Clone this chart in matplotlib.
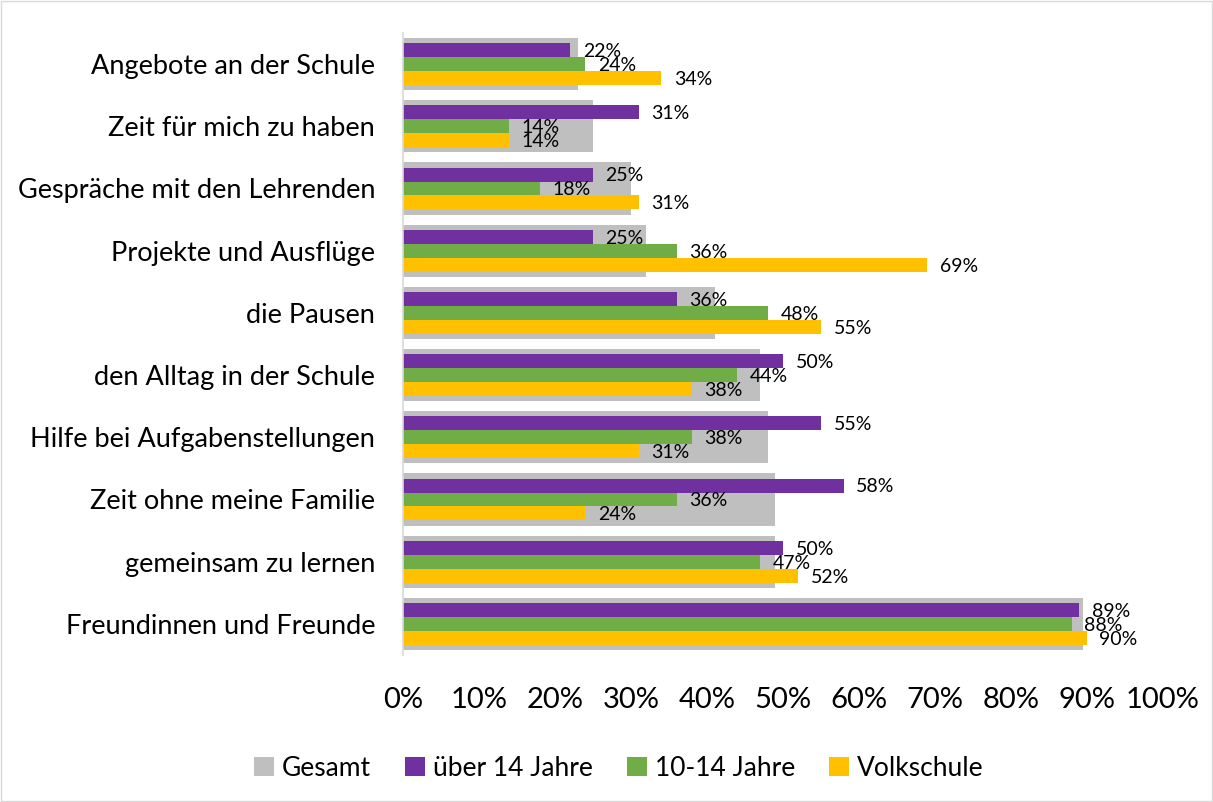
import matplotlib
matplotlib.use("Agg")
import matplotlib.pyplot as plt
from matplotlib.patches import Rectangle

plt.rcParams['font.family'] = ['Lato', 'DejaVu Sans']

categories = ["Angebote an der Schule", "Zeit für mich zu haben", "Gespräche mit den Lehrenden",
              "Projekte und Ausflüge", "die Pausen", "den Alltag in der Schule",
              "Hilfe bei Aufgabenstellungen", "Zeit ohne meine Familie", "gemeinsam zu lernen",
              "Freundinnen und Freunde"]
gesamt = [23, 25, 30, 32, 41, 47, 48, 49, 49, 89.5]
ueber14 = [22, 31, 25, 25, 36, 50, 55, 58, 50, 89]
j10_14 = [24, 14, 18, 36, 48, 44, 38, 36, 47, 88]
volksschule = [34, 14, 31, 69, 55, 38, 31, 24, 52, 90]
series_names = ["Gesamt", "über 14 Jahre", "10-14 Jahre", "Volkschule"]
colors = ["#BFBFBF", "#7030A0", "#70AD47", "#FFC000"]
xticks = list(range(0, 101, 10))

fig = plt.figure(figsize=(12.13, 8.02), dpi=100)
ax = fig.add_axes([403/1213, 1-655/802, 760/1213, 622/802])

ys = list(range(len(categories)))
ax.barh(ys, gesamt, height=0.84, color=colors[0], label=series_names[0], zorder=1)
h = 0.225
for k, (vals, name, col) in enumerate(zip([ueber14, j10_14, volksschule], series_names[1:], colors[1:])):
    pos = [y + (k - 1) * h for y in ys]
    ax.barh(pos, vals, height=h, color=col, label=name, zorder=2)
    for p, v in zip(pos, vals):
        ax.annotate(f"{v}%", (v, p), xytext=(9, -1), textcoords="offset points",
                    ha="left", va="center", fontsize=14, color="#000000", zorder=3)

ax.set_ylim(len(categories) - 0.5, -0.5)
ax.set_xlim(0, 100)
ax.set_yticks(ys)
ax.set_yticklabels(categories, fontsize=19.5)
ax.set_xticks(xticks)
ax.set_xticklabels([f"{t}%" for t in xticks], fontsize=21)
ax.tick_params(axis="y", length=0, pad=20)
ax.tick_params(axis="x", length=0, pad=23)
for s in ["top", "right", "bottom"]:
    ax.spines[s].set_visible(False)
ax.spines["left"].set_color("#D9D9D9")
ax.spines["left"].set_linewidth(1.2)

handles, labels = ax.get_legend_handles_labels()
fig.legend(handles, labels, loc="center", bbox_to_anchor=(0.51, 1-768/802), ncol=4,
           frameon=False, fontsize=19, handlelength=0.75, handleheight=0.75,
           handletextpad=0.3, columnspacing=1.3)

fig.add_artist(Rectangle((0.001, 0.001), 0.998, 0.998, transform=fig.transFigure,
                         fill=False, edgecolor="#D9D9D9", linewidth=1))

fig.savefig("out.png", dpi=100)
